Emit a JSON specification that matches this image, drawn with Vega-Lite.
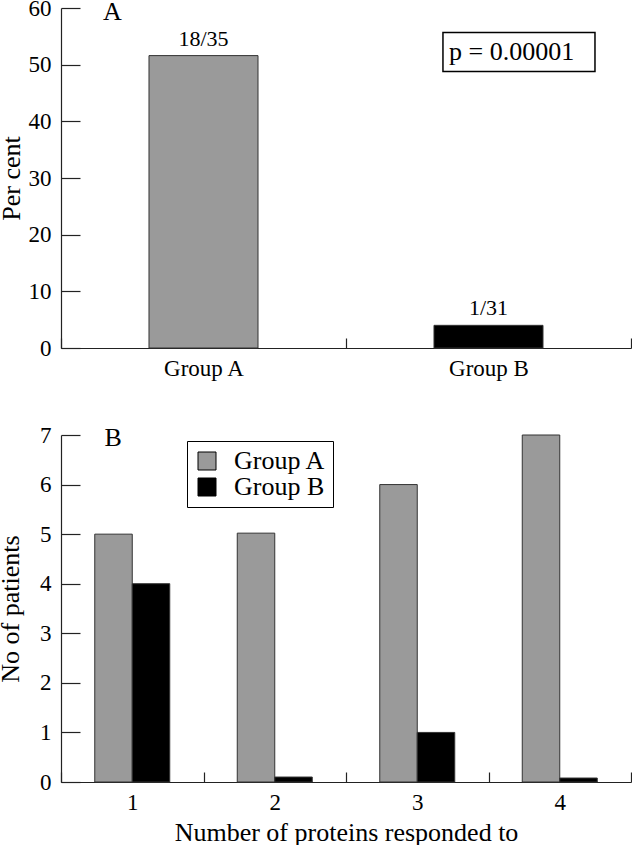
{
  "$schema": "https://vega.github.io/schema/vega-lite/v6.json",
  "padding": {"top": -3, "left": -3, "right": 0, "bottom": 0},
  "background": "white",
  "spacing": 44,
  "datasets": {
    "panelA": [
      {"group": "Group A", "pct": 51.6, "label": "18/35"},
      {"group": "Group B", "pct": 4.0, "label": "1/31"}
    ],
    "panelB": [
      {"n": "1", "series": "Group A", "count": 5.0},
      {"n": "1", "series": "Group B", "count": 4.0},
      {"n": "2", "series": "Group A", "count": 5.02},
      {"n": "2", "series": "Group B", "count": 0.1},
      {"n": "3", "series": "Group A", "count": 6.0},
      {"n": "3", "series": "Group B", "count": 1.0},
      {"n": "4", "series": "Group A", "count": 7.0},
      {"n": "4", "series": "Group B", "count": 0.08}
    ],
    "letterA": [{"t": "A"}],
    "letterB": [{"t": "B"}],
    "pnote": [{"t": "p = 0.00001"}]
  },
  "resolve": {"scale": {"x": "independent", "y": "independent", "color": "independent"}},
  "vconcat": [
    {
      "width": 570,
      "height": 340,
      "layer": [
        {
          "data": {"name": "panelA"},
          "mark": {"type": "bar", "stroke": "#333333", "strokeWidth": 1, "width": {"band": 0.3825}},
          "encoding": {
            "x": {
              "field": "group", "type": "nominal", "sort": null,
              "scale": {"paddingInner": 0, "paddingOuter": 0},
              "axis": {"title": null, "labelAngle": 0, "tickBand": "extent", "tickSize": -10, "labelPadding": 19, "labelFontSize": 23}
            },
            "y": {
              "field": "pct", "type": "quantitative",
              "scale": {"domain": [0, 60], "nice": false},
              "axis": {"title": "Per cent", "values": [0, 10, 20, 30, 40, 50, 60], "tickSize": -19, "labelPadding": 29, "titlePadding": 4, "labelFontSize": 23, "titleFontSize": 26}
            },
            "color": {
              "field": "group", "type": "nominal",
              "scale": {"domain": ["Group A", "Group B"], "range": ["#9a9a9a", "#000000"]},
              "legend": null
            }
          }
        },
        {
          "data": {"name": "panelA"},
          "mark": {"type": "text", "dy": -10, "baseline": "alphabetic", "fontSize": 22, "color": "#000000"},
          "encoding": {
            "x": {"field": "group", "type": "nominal", "title": null},
            "y": {"field": "pct", "type": "quantitative", "title": "Per cent"},
            "text": {"field": "label"}
          }
        },
        {
          "data": {"name": "letterA"},
          "mark": {"type": "text", "dx": -91, "dy": 12, "baseline": "alphabetic", "fontSize": 26, "color": "#000000"},
          "encoding": {
            "x": {"datum": "Group A", "type": "nominal", "title": null},
            "y": {"datum": 60, "type": "quantitative", "title": "Per cent"},
            "text": {"field": "t"}
          }
        },
        {
          "data": {"name": "pnote"},
          "mark": {"type": "point", "shape": "M-0.414,-0.177H0.968V0.177H-0.414Z", "size": 48400, "filled": false, "stroke": "#000000", "strokeWidth": 1.5, "opacity": 1},
          "encoding": {
            "x": {"datum": "Group B", "type": "nominal", "title": null},
            "y": {"datum": 52.24, "type": "quantitative", "title": "Per cent"}
          }
        },
        {
          "data": {"name": "pnote"},
          "mark": {"type": "text", "align": "left", "dx": -39.5, "dy": 8.5, "baseline": "alphabetic", "fontSize": 26, "color": "#000000"},
          "encoding": {
            "x": {"datum": "Group B", "type": "nominal", "title": null},
            "y": {"datum": 52.24, "type": "quantitative", "title": "Per cent"},
            "text": {"field": "t"}
          }
        }
      ]
    },
    {
      "width": 570,
      "height": 347,
      "layer": [
        {
          "data": {"name": "panelB"},
          "mark": {"type": "bar", "stroke": "#333333", "strokeWidth": 1},
          "encoding": {
            "x": {
              "field": "n", "type": "ordinal", "sort": ["1", "2", "3", "4"],
              "scale": {"paddingInner": 0, "paddingOuter": 0},
              "axis": {"title": "Number of proteins responded to", "labelAngle": 0, "tickBand": "extent", "tickSize": -10, "labelPadding": 19, "titlePadding": 5, "labelFontSize": 23, "titleFontSize": 26}
            },
            "xOffset": {
              "field": "series", "type": "nominal", "sort": ["Group A", "Group B"],
              "scale": {"paddingInner": 0, "paddingOuter": 0.9}
            },
            "y": {
              "field": "count", "type": "quantitative",
              "scale": {"domain": [0, 7], "nice": false},
              "axis": {"title": "No of patients", "values": [0, 1, 2, 3, 4, 5, 6, 7], "tickSize": -19, "labelPadding": 29, "titlePadding": 16, "labelFontSize": 23, "titleFontSize": 26}
            },
            "color": {
              "field": "series", "type": "nominal",
              "scale": {"domain": ["Group A", "Group B"], "range": ["#9a9a9a", "#000000"]},
              "legend": {
                "title": null, "orient": "none", "legendX": 126, "legendY": 6,
                "strokeColor": "#000000", "padding": 7, "symbolType": "square", "symbolSize": 324,
                "symbolStrokeColor": "#000000", "symbolStrokeWidth": 1, "symbolOpacity": 1,
                "labelFontSize": 26, "labelOffset": 14, "rowPadding": 0, "labelColor": "#000000", "labelFont": "Liberation Serif"
              }
            }
          }
        },
        {
          "data": {"name": "letterB"},
          "mark": {"type": "text", "dx": -19, "dy": 11, "baseline": "alphabetic", "fontSize": 26, "color": "#000000"},
          "encoding": {
            "x": {"datum": "1", "type": "ordinal", "title": "Number of proteins responded to"},
            "y": {"datum": 7, "type": "quantitative", "title": "No of patients"},
            "text": {"field": "t"}
          }
        }
      ]
    }
  ],
  "config": {
    "font": "Liberation Serif",
    "view": {"stroke": null},
    "axis": {
      "grid": false,
      "domainColor": "#222222", "domainWidth": 1.2,
      "tickColor": "#222222", "tickWidth": 1.2,
      "labelColor": "#000000", "titleColor": "#000000",
      "labelFont": "Liberation Serif", "titleFont": "Liberation Serif",
      "titleFontWeight": "normal"
    },
    "text": {"font": "Liberation Serif"}
  }
}
